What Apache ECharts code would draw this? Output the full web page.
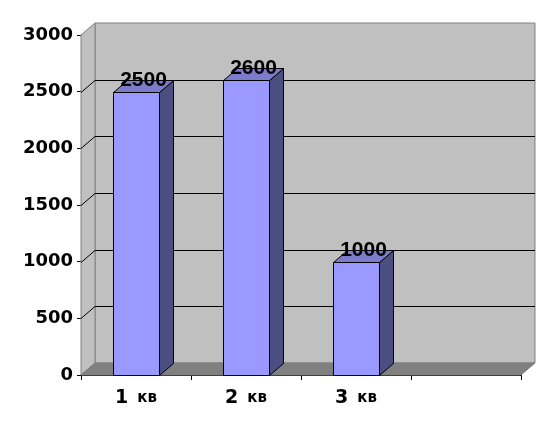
<!DOCTYPE html>
<html><head><meta charset="utf-8">
<script src="https://cdn.jsdelivr.net/npm/echarts@6/dist/echarts.min.js"></script>
<style>html,body{margin:0;padding:0;background:#fff}#c{width:557px;height:434px}</style>
</head><body><div id="c"></div>
<script>
var categories = ['1 кв', '2 кв', '3 кв', ''];
var values = [2500, 2600, 1000];
var yTicks = [0, 500, 1000, 1500, 2000, 2500, 3000];

var DX = 14, DY = -12;
var chart = echarts.init(document.getElementById('c'));

function wallsRender(params, api) {
  var cs = params.coordSys;
  var x = cs.x, y = cs.y, w = cs.width, h = cs.height;
  var ch = [];
  ch.push({type:'polygon', shape:{points:[[x+DX,y+DY],[x+w+DX,y+DY],[x+w+DX,y+h+DY],[x+DX,y+h+DY]]},
    style:{fill:'#C0C0C0', stroke:'#808080', lineWidth:1}});
  ch.push({type:'polygon', shape:{points:[[x,y],[x+DX,y+DY],[x+DX,y+h+DY],[x,y+h]]},
    style:{fill:'#C0C0C0', stroke:'#808080', lineWidth:1}});
  ch.push({type:'polygon', shape:{points:[[x,y+h],[x+DX,y+h+DY],[x+w+DX,y+h+DY],[x+w,y+h]]},
    style:{fill:'#808080', stroke:'#808080', lineWidth:1}});
  for (var i = 1; i < yTicks.length - 1; i++) {
    var py = Math.round(api.coord([0, yTicks[i]])[1]) + 0.5;
    ch.push({type:'line', shape:{x1:x, y1:py, x2:x+DX, y2:py+DY}, style:{stroke:'#000', lineWidth:1}});
    ch.push({type:'line', shape:{x1:x+DX, y1:py+DY, x2:x+w+DX, y2:py+DY}, style:{stroke:'#000', lineWidth:1}});
  }
  return {type:'group', children:ch};
}

function barRender(params, api) {
  var ci = api.value(0), v = api.value(1);
  var top = api.coord([ci, v]);
  var base = api.coord([ci, 0]);
  var bw = api.size([1, 0])[0] * 0.41;
  var xl = Math.round(top[0] - bw / 2) + 0.5, xr = Math.round(top[0] + bw / 2) + 0.5;
  var yt = Math.round(top[1]) + 0.5, yb = Math.round(base[1]) + 0.5;
  return {type:'group', children:[
    {type:'polygon', shape:{points:[[xr,yt],[xr+DX,yt+DY],[xr+DX,yb+DY],[xr,yb]]},
      style:{fill:'#4A4E80', stroke:'#000', lineWidth:1}},
    {type:'polygon', shape:{points:[[xl,yt],[xl+DX,yt+DY],[xr+DX,yt+DY],[xr,yt]]},
      style:{fill:'#7D7BCB', stroke:'#000', lineWidth:1}},
    {type:'rect', shape:{x:xl, y:yt, width:xr-xl, height:yb-yt},
      style:{fill:'#9999FF', stroke:'#000', lineWidth:1}},
    {type:'text', x:(xl+xr)/2 + DX/2, y:yt - 12,
      style:{text:String(v), fill:'#000', font:'bold 21px "Liberation Sans", Arial, sans-serif',
        align:'center', verticalAlign:'middle'}}
  ]};
}

chart.setOption({
  animation:false,
  backgroundColor:'#fff',
  grid:{left:81, right:36, top:35, bottom:59},
  xAxis:{type:'category', data:categories, boundaryGap:true,
    axisLine:{lineStyle:{color:'#000', width:1}},
    axisTick:{show:true, length:5, lineStyle:{color:'#000'}},
    axisLabel:{color:'#000', margin:14,
      formatter:function(s){ if(!s) return ''; var p=s.split(' '); return '{n|'+p[0]+'}{k|'+p[1]+'}'; },
      rich:{n:{fontFamily:'DejaVu Sans', fontWeight:'bold', fontSize:19, color:'#000'},
            k:{fontFamily:'DejaVu Sans', fontWeight:'bold', fontSize:15, color:'#000', padding:[0,0,0,9]}}},
    splitLine:{show:false}},
  yAxis:{type:'value', min:0, max:3000, interval:500,
    axisLine:{show:true, lineStyle:{color:'#000', width:1}},
    axisTick:{show:true, length:4, lineStyle:{color:'#000'}},
    axisLabel:{color:'#000', fontFamily:'DejaVu Sans', fontWeight:'bold', fontSize:18, margin:8,
      formatter:function(v){return String(v);}},
    splitLine:{show:false}},
  series:[
    {type:'custom', renderItem:wallsRender, data:[[0,0]], clip:false, silent:true, z:1},
    {type:'custom', renderItem:barRender, clip:false, z:2,
      data: values.map(function(v,i){return [i, v];})}
  ]
});
</script>
</body></html>
